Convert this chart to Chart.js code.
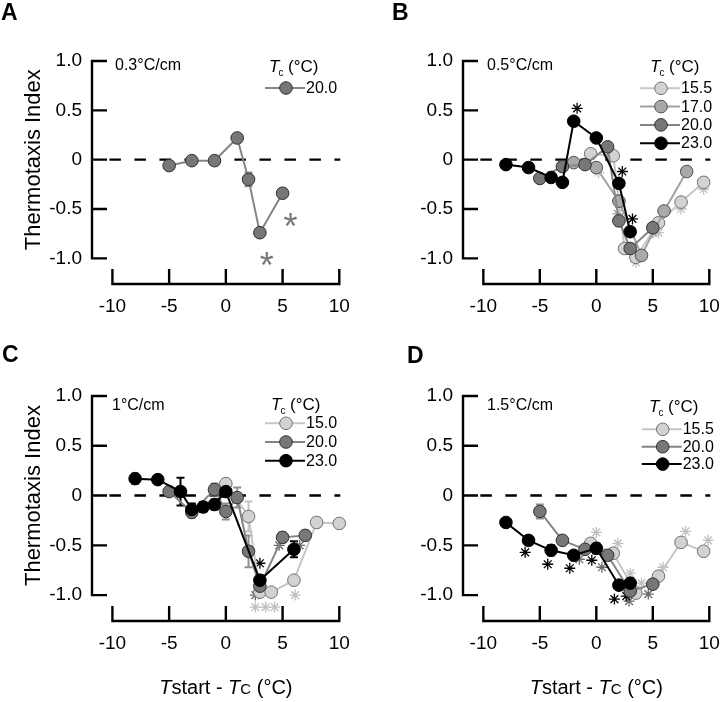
<!DOCTYPE html>
<html>
<head>
<meta charset="utf-8">
<script src="https://cdn.jsdelivr.net/npm/chart.js@4.4.1/dist/chart.umd.min.js"></script>
<style>
  html, body { margin: 0; padding: 0; background: #fff; }
  #wrap { position: relative; width: 720px; height: 702px; overflow: hidden; }
  #wrap canvas { position: absolute; }
</style>
</head>
<body>
<div id="wrap">
  <canvas id="cA" width="360" height="330" style="left:0;top:0"></canvas>
  <canvas id="cB" width="360" height="330" style="left:360px;top:0"></canvas>
  <canvas id="cC" width="360" height="372" style="left:0;top:330px"></canvas>
  <canvas id="cD" width="360" height="372" style="left:360px;top:330px"></canvas>
</div>
<script>
// ---- data ----
const xTicks = [-10, -5, 0, 5, 10];
const yTicks = [-1.0, -0.5, 0, 0.5, 1.0];

// A: 0.3°C/cm
const a20X = [-5, -3, -1, 1, 2, 3, 5];
const a20Y = [-0.06, -0.01, -0.01, 0.22, -0.20, -0.74, -0.34];
const a20E = [0.04, 0.02, 0.02, 0.04, 0.07, 0.02, 0.02];
const aSigX = [5.7, 3.6];
const aSigY = [-0.60, -0.99];

// B: 0.5°C/cm
const b155X = [-0.5, 1.5, 2.5, 3.5, 5.5, 7.5, 9.5];
const b155Y = [0.06, 0.04, -0.90, -0.99, -0.64, -0.43, -0.23];
const b155E = [0.03, 0.04, 0.04, 0.03, 0.04, 0.05, 0.05];
const b17X = [-2, 0, 2, 4, 6, 8];
const b17Y = [-0.03, -0.08, -0.42, -0.97, -0.52, -0.12];
const b17E = [0.03, 0.03, 0.06, 0.03, 0.03, 0.03];
const b20X = [-5, -3, -1, 1, 2, 3, 5];
const b20Y = [-0.19, -0.07, -0.05, 0.13, -0.62, -0.90, -0.69];
const b20E = [0.03, 0.03, 0.03, 0.04, 0.05, 0.04, 0.04];
const b23X = [-8, -6, -4, -3, -2, 0, 2, 3];
const b23Y = [-0.05, -0.08, -0.18, -0.23, 0.39, 0.22, -0.24, -0.73];
const b23E = [0.03, 0.04, 0.03, 0.04, 0.03, 0.04, 0.04, 0.04];
const bSig155X = [0.2, 3.5, 5.5, 7.5, 9.5];
const bSig155Y = [-0.13, -1.04, -0.74, -0.50, -0.30];
const bSig17X = [1.9, 5.0];
const bSig17Y = [-0.55, -0.74];
const bSig23X = [-1.7, 2.3, 3.2];
const bSig23Y = [0.52, -0.12, -0.60];

// C: 1°C/cm
const c15X = [0, 2, 3, 4, 6, 8, 10];
const c15Y = [0.12, -0.21, -0.97, -0.97, -0.85, -0.27, -0.28];
const c15E = [0.05, 0.15, 0.04, 0.03, 0.03, 0.05, 0.03];
const c20X = [-5, -3, -1, 0, 1, 2, 3, 5, 7];
const c20Y = [0.04, -0.17, 0.06, -0.16, -0.02, -0.56, -0.91, -0.42, -0.40];
const c20E = [0.03, 0.05, 0.06, 0.08, 0.10, 0.16, 0.05, 0.05, 0.05];
const c23X = [-8, -6, -4, -3, -2, -1, 0, 3, 6];
const c23Y = [0.17, 0.16, 0.04, -0.14, -0.115, -0.09, 0.04, -0.85, -0.54];
const c23E = [0.05, 0.03, 0.14, 0.06, 0.05, 0.05, 0.05, 0.05, 0.08];
const cSig15X = [2.6, 3.5, 4.3, 6.1];
const cSig15Y = [-1.12, -1.12, -1.12, -1.00];
const cSig20X = [2.6, 4.7, 6.5];
const cSig20Y = [-1.00, -0.50, -0.50];
const cSig23X = [3.0];
const cSig23Y = [-0.68];

// D: 1.5°C/cm
const d155X = [-0.5, 1.5, 3.5, 5.5, 7.5, 9.5];
const d155Y = [-0.48, -0.58, -0.98, -0.81, -0.47, -0.56];
const d155E = [0.04, 0.05, 0.03, 0.03, 0.03, 0.04];
const d20X = [-5, -3, -1, 1, 3, 5];
const d20Y = [-0.16, -0.45, -0.54, -0.60, -0.96, -0.89];
const d20E = [0.07, 0.03, 0.03, 0.04, 0.04, 0.03];
const d23X = [-8, -6, -4, -2, 0, 2, 3];
const d23Y = [-0.27, -0.45, -0.55, -0.60, -0.53, -0.90, -0.88];
const d23E = [0.04, 0.04, 0.05, 0.03, 0.05, 0.04, 0.05];
const dSig155X = [0, 1.9, 3.0, 4.0, 5.9, 7.9, 9.9];
const dSig155Y = [-0.37, -0.48, -0.78, -0.88, -0.72, -0.36, -0.45];
const dSig20X = [-1.5, 0.5, 2.9, 4.6];
const dSig20Y = [-0.64, -0.72, -1.06, -0.99];
const dSig23X = [-6.3, -4.3, -2.35, -0.4, 1.6, 2.65];
const dSig23Y = [-0.57, -0.69, -0.73, -0.65, -1.04, -1.01];

// ---- styles ----
const FONT = '"Liberation Sans", Arial, Helvetica, sans-serif';
const LIGHT = { fill: '#d2d2d2', line: '#c6c6c6', edge: '#707070', bar: '#c4c4c4', star: '#c0c0c0' };
const MID = { fill: '#a9a9a9', line: '#a2a2a2', edge: '#4d4d4d', bar: '#a8a8a8', star: '#9a9a9a' };
const DARK = { fill: '#777777', line: '#858585', edge: '#303030', bar: '#909090', star: '#6a6a6a' };
const BLACK = { fill: '#000000', line: '#000000', edge: '#000000', bar: '#000000', star: '#000000' };

function pts(xs, ys) { return xs.map((x, i) => ({ x: x, y: ys[i] })); }

function series(xs, ys, es, tone, order) {
  return {
    data: pts(xs, ys), err: es, tone: tone, order: order,
    showLine: true, borderColor: tone.line, borderWidth: 2,
    pointRadius: 6.3, pointBackgroundColor: tone.fill, pointBorderColor: tone.edge, pointBorderWidth: 1,
    clip: false
  };
}
function sig(xs, ys, tone, order) {
  return {
    data: pts(xs, ys), order: order, showLine: false,
    pointStyle: 'star', pointRadius: 5.5, pointBorderColor: tone.star, pointBorderWidth: 1.3,
    pointBackgroundColor: tone.star, clip: false
  };
}

const PANELS = [
  { id: 'cA', letter: 'A', letterAt: [1, 20], grad: '0.3°C/cm', gradAt: [115, 70],
    area: { left: 92, top: 61, right: 339.3, bottom: 284 }, yTitle: true, xTitle: false,
    legend: { x: 265, y: 88, dy: 18.3, hx: 269, hy: 72 },
    entries: [['20.0', DARK]],
    sets: [
      series(a20X, a20Y, a20E, DARK, 1),
      { data: pts(aSigX, aSigY), showLine: false, pointRadius: 0, glyph: '*', glyphColor: '#777777', clip: false }
    ] },
  { id: 'cB', letter: 'B', letterAt: [32, 20], grad: '0.5°C/cm', gradAt: [127, 70],
    area: { left: 103, top: 61, right: 349.3, bottom: 284 }, yTitle: false, xTitle: false,
    legend: { x: 280, y: 88.3, dy: 18.3, hx: 290, hy: 72 },
    entries: [['15.5', LIGHT], ['17.0', MID], ['20.0', DARK], ['23.0', BLACK]],
    sets: [
      series(b23X, b23Y, b23E, BLACK, 1),
      series(b20X, b20Y, b20E, DARK, 2),
      series(b17X, b17Y, b17E, MID, 3),
      series(b155X, b155Y, b155E, LIGHT, 4),
      sig(bSig23X, bSig23Y, BLACK, 5),
      sig(bSig17X, bSig17Y, MID, 6),
      sig(bSig155X, bSig155Y, LIGHT, 7)
    ] },
  { id: 'cC', letter: 'C', letterAt: [2, 32], grad: '1°C/cm', gradAt: [112, 80],
    area: { left: 92, top: 66, right: 339.3, bottom: 291 }, yTitle: true, xTitle: true,
    legend: { x: 265, y: 93.3, dy: 18.7, hx: 271, hy: 80 },
    entries: [['15.0', LIGHT], ['20.0', DARK], ['23.0', BLACK]],
    sets: [
      series(c23X, c23Y, c23E, BLACK, 1),
      series(c20X, c20Y, c20E, DARK, 2),
      series(c15X, c15Y, c15E, LIGHT, 3),
      sig(cSig23X, cSig23Y, BLACK, 5),
      sig(cSig20X, cSig20Y, DARK, 6),
      sig(cSig15X, cSig15Y, LIGHT, 7)
    ] },
  { id: 'cD', letter: 'D', letterAt: [47, 33], grad: '1.5°C/cm', gradAt: [127, 80],
    area: { left: 103, top: 66, right: 349.3, bottom: 291 }, yTitle: false, xTitle: true,
    legend: { x: 281.7, y: 99.3, dy: 17.4, hx: 289, hy: 82 },
    entries: [['15.5', LIGHT], ['20.0', DARK], ['23.0', BLACK]],
    sets: [
      series(d23X, d23Y, d23E, BLACK, 1),
      series(d20X, d20Y, d20E, DARK, 2),
      series(d155X, d155Y, d155E, LIGHT, 3),
      sig(dSig23X, dSig23Y, BLACK, 5),
      sig(dSig20X, dSig20Y, DARK, 6),
      sig(dSig155X, dSig155Y, LIGHT, 7)
    ] }
];
const byId = {};
PANELS.forEach(p => { byId[p.id] = p; });

// axes, zero line, error bars, legend and labels
const deco = {
  id: 'deco',
  beforeDatasetsDraw(chart) {
    const ctx = chart.ctx, xs = chart.scales.x, ys = chart.scales.y;
    const ax = chart.chartArea.left, ay = chart.chartArea.bottom;
    ctx.save();
    ctx.strokeStyle = '#000';
    ctx.lineWidth = 2.4;
    ctx.beginPath();
    ctx.moveTo(ax, ys.getPixelForValue(1) - 1.2);
    ctx.lineTo(ax, ys.getPixelForValue(-1) + 1.2);
    yTicks.forEach(v => { const y = ys.getPixelForValue(v); ctx.moveTo(ax, y); ctx.lineTo(ax + 15, y); });
    ctx.moveTo(xs.getPixelForValue(-10) - 1.2, ay);
    ctx.lineTo(xs.getPixelForValue(10) + 1.2, ay);
    xTicks.forEach(v => { const x = xs.getPixelForValue(v); ctx.moveTo(x, ay); ctx.lineTo(x, ay - 15); });
    ctx.stroke();

    // dashed zero line
    ctx.setLineDash([11.5, 13.5]);
    ctx.beginPath();
    const y0 = ys.getPixelForValue(0);
    ctx.moveTo(xs.getPixelForValue(-10) - 3, y0);
    ctx.lineTo(xs.getPixelForValue(10) + 1, y0);
    ctx.stroke();
    ctx.setLineDash([]);

    // error bars
    chart.data.datasets.forEach((ds, di) => {
      if (!ds.err) return;
      const meta = chart.getDatasetMeta(di);
      ctx.strokeStyle = ds.tone.bar;
      ctx.lineWidth = 2;
      ctx.beginPath();
      meta.data.forEach((pt, i) => {
        const v = ds.data[i].y, e = ds.err[i];
        const yt = ys.getPixelForValue(v + e), yb = ys.getPixelForValue(v - e);
        ctx.moveTo(pt.x, yt); ctx.lineTo(pt.x, yb);
        ctx.moveTo(pt.x - 4, yt); ctx.lineTo(pt.x + 4, yt);
        ctx.moveTo(pt.x - 4, yb); ctx.lineTo(pt.x + 4, yb);
      });
      ctx.stroke();
    });
    ctx.restore();
  },
  afterDatasetsDraw(chart) {
    const p = byId[chart.canvas.id];
    const ctx = chart.ctx, xs = chart.scales.x, ys = chart.scales.y;
    ctx.save();

    // glyph asterisks (panel A)
    chart.data.datasets.forEach((ds, di) => {
      if (!ds.glyph) return;
      ctx.fillStyle = ds.glyphColor;
      ctx.font = '36px ' + FONT;
      ctx.textAlign = 'center';
      ctx.textBaseline = 'alphabetic';
      chart.getDatasetMeta(di).data.forEach(pt => ctx.fillText(ds.glyph, pt.x, pt.y + 36 * 0.57));
    });

    ctx.fillStyle = '#000';
    ctx.textBaseline = 'alphabetic';
    ctx.textAlign = 'left';

    // panel letter
    ctx.font = 'bold 23px ' + FONT;
    ctx.fillText(p.letter, p.letterAt[0], p.letterAt[1]);

    // gradient note
    ctx.font = '16px ' + FONT;
    ctx.fillText(p.grad, p.gradAt[0], p.gradAt[1]);

    // legend header: Tc (°C)
    const L = p.legend;
    ctx.font = 'italic 17px ' + FONT;
    ctx.fillText('T', L.hx, L.hy);
    const tw = ctx.measureText('T').width;
    ctx.font = '10px ' + FONT;
    ctx.fillText('c', L.hx + tw - 1, L.hy + 4);
    ctx.font = '17px ' + FONT;
    ctx.fillText(' (°C)', L.hx + tw + 4, L.hy);

    // legend rows
    p.entries.forEach((en, i) => {
      const tone = en[1], y = L.y + i * L.dy;
      ctx.strokeStyle = tone.line;
      ctx.lineWidth = 2;
      ctx.beginPath();
      ctx.moveTo(L.x, y); ctx.lineTo(L.x + 40, y);
      ctx.stroke();
      ctx.beginPath();
      ctx.arc(L.x + 21, y, 6.3, 0, Math.PI * 2);
      ctx.fillStyle = tone.fill;
      ctx.fill();
      ctx.strokeStyle = tone.edge;
      ctx.lineWidth = 1;
      ctx.stroke();
      ctx.fillStyle = '#000';
      ctx.font = '16px ' + FONT;
      ctx.textBaseline = 'middle';
      ctx.fillText(en[0], L.x + 41, y + 0.5);
      ctx.textBaseline = 'alphabetic';
    });

    // y title
    if (p.yTitle) {
      ctx.save();
      ctx.translate(34, (ys.getPixelForValue(1) + ys.getPixelForValue(-1)) / 2);
      ctx.rotate(-Math.PI / 2);
      ctx.font = '22px ' + FONT;
      ctx.textAlign = 'center';
      ctx.textBaseline = 'middle';
      ctx.fillText('Thermotaxis Index', 0, 0);
      ctx.restore();
    }

    // x title: Tstart - Tc (°C)
    if (p.xTitle) {
      const parts = [['T', 'italic 20px '], ['start', '20px '], [' - ', '20px '], ['T', 'italic 20px '], ['C', '15px '], [' (°C)', '20px ']];
      let total = 0;
      parts.forEach(s => { ctx.font = s[1] + FONT; total += ctx.measureText(s[0]).width; });
      let x = xs.getPixelForValue(0) - total / 2;
      const y = chart.height - 8;
      parts.forEach(s => { ctx.font = s[1] + FONT; ctx.fillText(s[0], x, y); x += ctx.measureText(s[0]).width; });
    }
    ctx.restore();
  }
};

function build(p) {
  const canvas = document.getElementById(p.id);
  const A = p.area;
  return new Chart(canvas, {
    type: 'scatter',
    data: { datasets: p.sets },
    options: {
      responsive: false,
      animation: false,
      events: [],
      layout: { padding: { left: 0, top: A.top, right: canvas.width - A.right, bottom: 0 } },
      plugins: { legend: { display: false }, tooltip: { enabled: false } },
      scales: {
        x: {
          type: 'linear', min: -11.8, max: 10,
          grid: { display: false, drawTicks: false }, border: { display: false },
          afterBuildTicks: s => { s.ticks = xTicks.map(v => ({ value: v })); },
          afterFit: s => { s.height = canvas.height - A.bottom; s.paddingLeft = 0; s.paddingRight = 0; },
          ticks: { color: '#000', font: { family: FONT, size: 19 }, padding: 11, maxRotation: 0, autoSkip: false,
                   callback: v => String(v) }
        },
        y: {
          type: 'linear', min: -1.26, max: 1.0,
          grid: { display: false, drawTicks: false }, border: { display: false },
          afterBuildTicks: s => { s.ticks = yTicks.map(v => ({ value: v })); },
          afterFit: s => { s.width = A.left; s.paddingTop = 0; s.paddingBottom = 0; },
          ticks: { color: '#000', font: { family: FONT, size: 19 }, padding: 10, autoSkip: false,
                   callback: v => (v === 0 ? '0' : v.toFixed(1)) }
        }
      }
    },
    plugins: [deco]
  });
}

PANELS.forEach(build);
</script>
</body>
</html>
